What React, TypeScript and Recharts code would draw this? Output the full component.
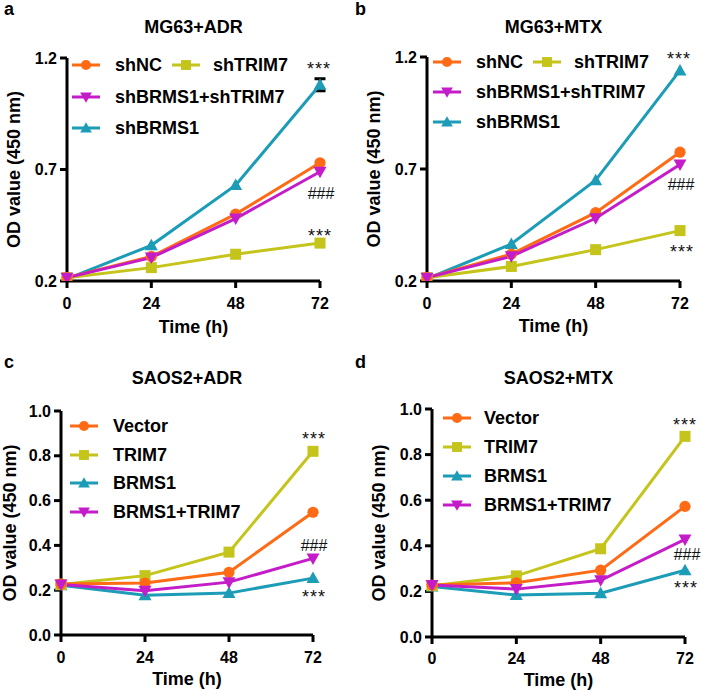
import React from 'react';
import { LineChart, Line, XAxis, YAxis, ErrorBar } from 'recharts';

const FONT = '"Liberation Sans", Arial, Helvetica, sans-serif';
const ORANGE = '#FF6A14';
const OLIVE = '#C4C41A';
const TEAL = '#1C9CB7';
const MAGENTA = '#C41CC8';

// ---------- data ----------
const timePoints = [0, 24, 48, 72];
const timeTicks = [0, 24, 48, 72];
const mg63Ticks = [0.2, 0.7, 1.2];
const saosTicks = [0, 0.2, 0.4, 0.6, 0.8, 1.0];

// a: MG63+ADR
const adrMgShNC = [0.215, 0.31, 0.5, 0.73];
const adrMgShTRIM7 = [0.215, 0.26, 0.32, 0.37];
const adrMgShBoth = [0.215, 0.305, 0.48, 0.69];
const adrMgShBRMS1 = [0.21, 0.36, 0.63, 1.08];
const adrMgShBRMS1Err = [null, null, null, 0.027];

// b: MG63+MTX
const mtxMgShNC = [0.215, 0.32, 0.505, 0.775];
const mtxMgShTRIM7 = [0.215, 0.265, 0.34, 0.425];
const mtxMgShBoth = [0.215, 0.31, 0.48, 0.72];
const mtxMgShBRMS1 = [0.21, 0.365, 0.65, 1.14];

// c: SAOS2+ADR
const adrSaVector = [0.228, 0.232, 0.28, 0.548];
const adrSaTRIM7 = [0.225, 0.265, 0.37, 0.82];
const adrSaBRMS1 = [0.222, 0.178, 0.187, 0.254];
const adrSaBoth = [0.225, 0.198, 0.236, 0.342];

// d: SAOS2+MTX
const mtxSaVector = [0.228, 0.238, 0.293, 0.573];
const mtxSaTRIM7 = [0.225, 0.268, 0.387, 0.88];
const mtxSaBRMS1 = [0.222, 0.184, 0.192, 0.293];
const mtxSaBoth = [0.228, 0.21, 0.249, 0.428];

type Shape = 'circle' | 'square' | 'up' | 'down';
interface Annot { text: string; dx: number; dy: number }
interface Series {
  key: string;
  name: string;
  color: string;
  shape: Shape;
  values: number[];
  err?: (number | null)[];
  annot?: Annot;
}

function Marker({ shape, cx, cy, color, s = 1 }: { shape: Shape; cx: number; cy: number; color: string; s?: number }) {
  if (cx == null || cy == null) return <g />;
  if (shape === 'circle') return <circle cx={cx} cy={cy} r={5.6 * s} fill={color} />;
  if (shape === 'square') {
    const h = 5.5 * s;
    return <rect x={cx - h} y={cy - h} width={2 * h} height={2 * h} fill={color} />;
  }
  if (shape === 'up') {
    const w = 6.5 * s;
    return <polygon points={`${cx},${cy - 6.5 * s} ${cx - w},${cy + 5 * s} ${cx + w},${cy + 5 * s}`} fill={color} />;
  }
  const w = 6.5 * s;
  return <polygon points={`${cx},${cy + 6.5 * s} ${cx - w},${cy - 5 * s} ${cx + w},${cy - 5 * s}`} fill={color} />;
}

interface LegendItem { key: string; x: number; y: number; textX: number }
interface PanelCfg {
  letter: string;
  title: string;
  px: number;
  py: number;
  left: number;
  right: number;
  top: number;
  bottom: number;
  yDomain: [number, number];
  yTicks: number[];
  yLabelOffset: number;
  xLabelOffset: number;
  xTickMargin: number;
  titleBaseline: number;
  letterBaseline: number;
  series: Series[];
  drawOrder: string[];
  legend: LegendItem[];
}

const panels: PanelCfg[] = [
  {
    letter: 'a', title: 'MG63+ADR', px: 0, py: 0,
    left: 67, right: 31, top: 58, bottom: 64,
    yDomain: [0.2, 1.2], yTicks: mg63Ticks, yLabelOffset: 14, xLabelOffset: 12, xTickMargin: 10,
    titleBaseline: 33, letterBaseline: 15,
    series: [
      { key: 'shNC', name: 'shNC', color: ORANGE, shape: 'circle', values: adrMgShNC },
      { key: 'shTRIM7', name: 'shTRIM7', color: OLIVE, shape: 'square', values: adrMgShTRIM7, annot: { text: '***', dx: 0, dy: -1 } },
      { key: 'shBoth', name: 'shBRMS1+shTRIM7', color: MAGENTA, shape: 'down', values: adrMgShBoth, annot: { text: '###', dx: 1, dy: 27 } },
      { key: 'shBRMS1', name: 'shBRMS1', color: TEAL, shape: 'up', values: adrMgShBRMS1, err: adrMgShBRMS1Err, annot: { text: '***', dx: -1, dy: -10 } },
    ],
    drawOrder: ['shBRMS1', 'shTRIM7', 'shNC', 'shBoth'],
    legend: [
      { key: 'shNC', x: 72, y: 65, textX: 115 },
      { key: 'shTRIM7', x: 172, y: 65, textX: 213 },
      { key: 'shBoth', x: 72, y: 97, textX: 115 },
      { key: 'shBRMS1', x: 72, y: 128, textX: 115 },
    ],
  },
  {
    letter: 'b', title: 'MG63+MTX', px: 351, py: 0,
    left: 76, right: 22, top: 57, bottom: 64,
    yDomain: [0.2, 1.2], yTicks: mg63Ticks, yLabelOffset: 23, xLabelOffset: 13, xTickMargin: 10,
    titleBaseline: 33, letterBaseline: 15,
    series: [
      { key: 'shNC', name: 'shNC', color: ORANGE, shape: 'circle', values: mtxMgShNC },
      { key: 'shTRIM7', name: 'shTRIM7', color: OLIVE, shape: 'square', values: mtxMgShTRIM7, annot: { text: '***', dx: 2, dy: 27 } },
      { key: 'shBoth', name: 'shBRMS1+shTRIM7', color: MAGENTA, shape: 'down', values: mtxMgShBoth, annot: { text: '###', dx: 1, dy: 25 } },
      { key: 'shBRMS1', name: 'shBRMS1', color: TEAL, shape: 'up', values: mtxMgShBRMS1, annot: { text: '***', dx: -1, dy: -5 } },
    ],
    drawOrder: ['shBRMS1', 'shTRIM7', 'shNC', 'shBoth'],
    legend: [
      { key: 'shNC', x: 82, y: 62, textX: 125 },
      { key: 'shTRIM7', x: 182, y: 62, textX: 223 },
      { key: 'shBoth', x: 82, y: 92, textX: 125 },
      { key: 'shBRMS1', x: 82, y: 122, textX: 125 },
    ],
  },
  {
    letter: 'c', title: 'SAOS2+ADR', px: 0, py: 345,
    left: 61, right: 38, top: 66, bottom: 55,
    yDomain: [0, 1.0], yTicks: saosTicks, yLabelOffset: 10, xLabelOffset: 5, xTickMargin: 10,
    titleBaseline: 39, letterBaseline: 23,
    series: [
      { key: 'vector', name: 'Vector', color: ORANGE, shape: 'circle', values: adrSaVector },
      { key: 'trim7', name: 'TRIM7', color: OLIVE, shape: 'square', values: adrSaTRIM7, annot: { text: '***', dx: 1, dy: -6 } },
      { key: 'brms1', name: 'BRMS1', color: TEAL, shape: 'up', values: adrSaBRMS1, annot: { text: '***', dx: 1, dy: 25 } },
      { key: 'both', name: 'BRMS1+TRIM7', color: MAGENTA, shape: 'down', values: adrSaBoth, annot: { text: '###', dx: 1, dy: -7 } },
    ],
    drawOrder: ['brms1', 'trim7', 'vector', 'both'],
    legend: [
      { key: 'vector', x: 70, y: 81, textX: 113 },
      { key: 'trim7', x: 70, y: 110, textX: 113 },
      { key: 'brms1', x: 70, y: 138, textX: 113 },
      { key: 'both', x: 70, y: 167, textX: 113 },
    ],
  },
  {
    letter: 'd', title: 'SAOS2+MTX', px: 351, py: 345,
    left: 81, right: 17, top: 64, bottom: 53,
    yDomain: [0, 1.0], yTicks: saosTicks, yLabelOffset: 28, xLabelOffset: 4, xTickMargin: 9,
    titleBaseline: 39, letterBaseline: 23,
    series: [
      { key: 'vector', name: 'Vector', color: ORANGE, shape: 'circle', values: mtxSaVector },
      { key: 'trim7', name: 'TRIM7', color: OLIVE, shape: 'square', values: mtxSaTRIM7, annot: { text: '***', dx: 0, dy: -5 } },
      { key: 'brms1', name: 'BRMS1', color: TEAL, shape: 'up', values: mtxSaBRMS1, annot: { text: '***', dx: 1, dy: 24 } },
      { key: 'both', name: 'BRMS1+TRIM7', color: MAGENTA, shape: 'down', values: mtxSaBoth, annot: { text: '###', dx: 2, dy: 21 } },
    ],
    drawOrder: ['brms1', 'trim7', 'vector', 'both'],
    legend: [
      { key: 'vector', x: 92, y: 73, textX: 133 },
      { key: 'trim7', x: 92, y: 102, textX: 133 },
      { key: 'brms1', x: 92, y: 131, textX: 133 },
      { key: 'both', x: 92, y: 160, textX: 133 },
    ],
  },
];

const W = 351;
const H = 345;

function Panel({ cfg }: { cfg: PanelCfg }) {
  const rows = timePoints.map((t, i) => {
    const r: any = { t };
    cfg.series.forEach((s) => {
      r[s.key] = s.values[i];
      if (s.err) r[s.key + '_err'] = s.err[i];
    });
    return r;
  });
  const byKey: Record<string, Series> = {};
  cfg.series.forEach((s) => (byKey[s.key] = s));
  const plotCenterX = cfg.left + (W - cfg.left - cfg.right) / 2;

  const tickStyle = { fontSize: 16, fontWeight: 'bold', fill: '#000', fontFamily: FONT } as any;

  return (
    <div style={{ position: 'absolute', left: cfg.px, top: cfg.py, width: W, height: H }}>
      <LineChart width={W} height={H} data={rows} margin={{ top: cfg.top, right: cfg.right, bottom: 0, left: 0 }}>
        <XAxis
          dataKey="t"
          type="number"
          domain={[0, 72]}
          ticks={timeTicks}
          height={cfg.bottom}
          axisLine={{ stroke: '#000', strokeWidth: 3 }}
          tickLine={{ stroke: '#000', strokeWidth: 3 }}
          tickSize={7}
          tickMargin={cfg.xTickMargin}
          tick={tickStyle}
          interval={0}
          label={{
            value: 'Time (h)',
            position: 'insideBottom',
            offset: cfg.xLabelOffset,
            style: { fontSize: 18, fontWeight: 'bold', fill: '#000', fontFamily: FONT },
          }}
        />
        <YAxis
          type="number"
          domain={cfg.yDomain}
          ticks={cfg.yTicks}
          width={cfg.left}
          interval={0}
          allowDataOverflow
          tickFormatter={(v: number) => v.toFixed(1)}
          axisLine={{ stroke: '#000', strokeWidth: 3 }}
          tickLine={{ stroke: '#000', strokeWidth: 3 }}
          tickSize={7}
          tickMargin={3}
          tick={tickStyle}
          label={{
            value: 'OD value (450 nm)',
            angle: -90,
            position: 'insideLeft',
            offset: cfg.yLabelOffset,
            style: { textAnchor: 'middle', fontSize: 18, fontWeight: 'bold', fill: '#000', fontFamily: FONT },
          }}
        />
        {cfg.drawOrder.map((k) => {
          const s = byKey[k];
          return (
            <Line
              key={s.key}
              dataKey={s.key}
              type="linear"
              stroke={s.color}
              strokeWidth={3}
              isAnimationActive={false}
              activeDot={false}
              dot={(p: any) => <Marker key={`d-${s.key}-${p.index}`} shape={s.shape} cx={p.cx} cy={p.cy} color={s.color} />}
              label={(p: any) => {
                if (!s.annot || p.index !== 3) return <g key={`l-${s.key}-${p.index}`} />;
                const x = p.x ?? p.viewBox?.x;
                const y = p.y ?? p.viewBox?.y;
                const isStar = s.annot.text.startsWith('*');
                return (
                  <text
                    key={`l-${s.key}-${p.index}`}
                    x={x + s.annot.dx}
                    y={y + s.annot.dy}
                    textAnchor="middle"
                    fontSize={isStar ? 18 : 16}
                    letterSpacing={isStar ? 1 : 0}
                    fontFamily={FONT}
                    fill="#111"
                  >
                    {s.annot.text}
                  </text>
                );
              }}
            >
              {s.err ? <ErrorBar dataKey={s.key + '_err'} width={5.5} strokeWidth={3} stroke="#000" direction="y" /> : null}
            </Line>
          );
        })}
      </LineChart>

      <div
        style={{
          position: 'absolute', left: 4, top: cfg.letterBaseline - 13, fontFamily: FONT, fontWeight: 'bold',
          fontSize: 18, lineHeight: '14px', color: '#000',
        }}
      >
        {cfg.letter}
      </div>
      <div
        style={{
          position: 'absolute', left: plotCenterX - 100, width: 200, top: cfg.titleBaseline - 16, textAlign: 'center',
          fontFamily: FONT, fontWeight: 'bold', fontSize: 18, lineHeight: '20px', color: '#000', whiteSpace: 'nowrap',
        }}
      >
        {cfg.title}
      </div>
      {cfg.legend.map((it) => {
        const s = byKey[it.key];
        return (
          <div key={it.key} style={{ position: 'absolute', left: it.x, top: it.y - 11, height: 22 }}>
            <svg width={30} height={22} style={{ position: 'absolute', left: 0, top: 0 }}>
              <line x1={0} y1={11} x2={28} y2={11} stroke={s.color} strokeWidth={3} />
              <Marker shape={s.shape} cx={14} cy={11} color={s.color} s={0.9} />
            </svg>
            <div
              style={{
                position: 'absolute', left: it.textX - it.x, top: 0, lineHeight: '22px', fontFamily: FONT,
                fontWeight: 'bold', fontSize: 18, color: '#000', whiteSpace: 'nowrap',
              }}
            >
              {s.name}
            </div>
          </div>
        );
      })}
    </div>
  );
}

export default function App() {
  return (
    <div style={{ position: 'absolute', left: 0, top: 0, width: 702, height: 690, background: '#fff', overflow: 'hidden' }}>
      {panels.map((p) => (
        <Panel key={p.letter} cfg={p} />
      ))}
    </div>
  );
}
